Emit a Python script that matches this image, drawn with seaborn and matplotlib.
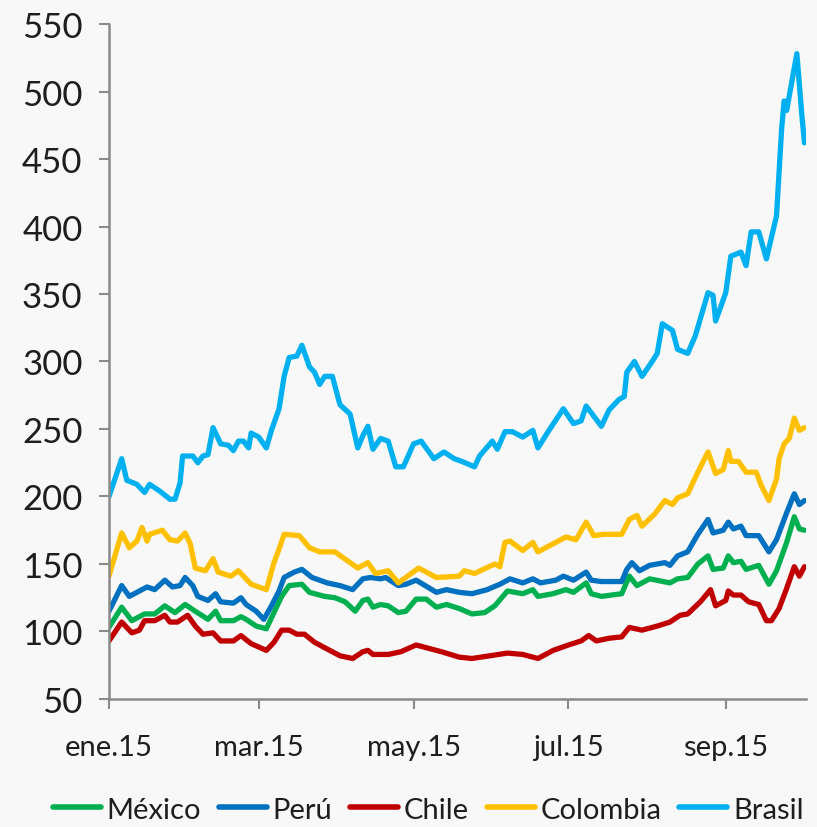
'''
Spreads soberanos de Latinoamerica, ene.15 - sep.15
'''
import pandas            as pnd
import seaborn           as sns
import matplotlib.pyplot as plt
from matplotlib.lines import Line2D

# dias desde 2015-01-01 y valores
mexico_dia   = [0, 5, 9, 14, 18, 22, 26, 30, 34, 39, 42, 44, 49, 52, 54, 58, 62, 65, 68, 71,
                76, 79, 85, 89, 93, 97, 100, 102, 104, 107, 110, 114, 117, 121, 125, 129, 133, 138, 143, 148,
                152, 157, 163, 167, 169, 175, 180, 183, 188, 190, 194, 202, 205, 208, 213, 221, 224, 228, 232, 236,
                238, 242, 244, 246, 249, 251, 256, 260, 263, 267, 270, 272, 274]
mexico_val   = [103, 118, 108, 113, 113, 119, 114, 120, 115, 109, 115, 108, 108, 111, 109, 104, 102, 114, 126, 134,
                135, 129, 126, 125, 122, 115, 123, 124, 118, 120, 119, 114, 115, 124, 124, 118, 120, 117, 113, 114,
                119, 130, 128, 131, 126, 128, 131, 129, 136, 128, 126, 128, 141, 134, 139, 136, 139, 140, 150, 156,
                146, 147, 156, 151, 152, 146, 149, 135, 145, 166, 185, 176, 175]

peru_dia     = [0, 5, 8, 12, 15, 18, 22, 25, 28, 30, 33, 35, 39, 42, 44, 49, 52, 54, 58, 61,
                64, 67, 69, 73, 76, 80, 86, 91, 96, 100, 103, 107, 109, 114, 117, 121, 129, 133, 138, 143,
                149, 154, 158, 163, 167, 170, 176, 179, 183, 188, 190, 194, 202, 204, 206, 209, 213, 219, 221, 224,
                228, 232, 236, 238, 242, 244, 246, 249, 251, 256, 260, 263, 267, 270, 272, 274]
peru_val     = [115, 134, 126, 130, 133, 131, 138, 133, 134, 140, 134, 126, 123, 128, 122, 121, 125, 120, 115, 109,
                119, 130, 140, 144, 146, 140, 136, 134, 131, 139, 140, 139, 140, 134, 135, 138, 129, 131, 129, 128,
                131, 135, 139, 136, 139, 136, 138, 141, 138, 144, 138, 137, 137, 146, 151, 145, 149, 151, 149, 156,
                159, 172, 183, 173, 175, 181, 176, 178, 171, 171, 159, 168, 188, 202, 194, 197]

chile_dia    = [0, 5, 9, 12, 14, 18, 22, 24, 27, 31, 34, 37, 41, 44, 49, 52, 54, 56, 62, 65,
                68, 71, 74, 77, 81, 86, 91, 96, 100, 102, 104, 110, 115, 121, 125, 131, 138, 143, 150, 157,
                163, 169, 175, 181, 186, 189, 192, 197, 202, 205, 210, 216, 221, 225, 228, 233, 237, 239, 243, 244,
                246, 249, 252, 256, 259, 261, 264, 267, 270, 272, 274]
chile_val    = [93, 107, 99, 101, 108, 108, 112, 107, 107, 112, 104, 98, 99, 93, 93, 97, 94, 91, 86, 92,
                101, 101, 98, 98, 92, 87, 82, 80, 85, 86, 83, 83, 85, 90, 88, 85, 81, 80, 82, 84,
                83, 80, 86, 90, 93, 97, 93, 95, 96, 103, 101, 104, 107, 112, 113, 122, 131, 119, 123, 130,
                127, 127, 122, 120, 108, 108, 117, 132, 148, 141, 148]

colombia_dia = [0, 5, 8, 11, 13, 15, 16, 21, 24, 27, 30, 32, 34, 38, 41, 43, 48, 51, 56, 62,
                65, 67, 69, 75, 79, 83, 89, 98, 102, 105, 110, 114, 122, 129, 138, 140, 144, 152, 154, 156,
                158, 163, 167, 169, 176, 180, 184, 188, 191, 195, 202, 205, 208, 210, 215, 219, 222, 224, 228, 232,
                236, 239, 242, 244, 245, 248, 251, 255, 257, 260, 263, 264, 266, 268, 270, 272, 274]
colombia_val = [141, 173, 162, 167, 177, 167, 172, 175, 168, 167, 173, 165, 147, 145, 154, 144, 141, 145, 135, 131,
                151, 161, 172, 171, 162, 159, 159, 147, 151, 143, 145, 136, 147, 140, 141, 145, 143, 150, 148, 166,
                167, 160, 166, 159, 166, 170, 168, 181, 171, 172, 172, 183, 186, 178, 187, 197, 194, 199, 202, 218,
                233, 217, 220, 234, 226, 226, 218, 218, 208, 197, 213, 228, 239, 243, 258, 249, 251]

brasil_dia   = [0, 5, 7, 11, 14, 16, 20, 24, 26, 28, 29, 33, 35, 37, 39, 41, 44, 47, 49, 51,
                53, 55, 56, 59, 62, 64, 67, 69, 71, 74, 76, 79, 81, 83, 85, 88, 91, 95, 98, 100,
                102, 104, 107, 110, 113, 116, 120, 123, 128, 132, 136, 139, 144, 146, 151, 153, 156, 159, 163, 167,
                169, 173, 179, 183, 186, 188, 194, 197, 201, 203, 204, 207, 210, 214, 216, 218, 222, 224, 228, 231,
                236, 238, 239, 243, 245, 249, 251, 253, 256, 259, 263, 265, 266, 267, 271, 273, 274]
brasil_val   = [200, 228, 212, 209, 203, 209, 204, 198, 198, 210, 230, 230, 225, 230, 231, 251, 239, 238, 234, 241,
                241, 236, 247, 244, 236, 249, 265, 289, 303, 304, 312, 296, 292, 283, 289, 289, 268, 261, 236, 245,
                252, 235, 243, 241, 222, 222, 239, 241, 228, 233, 228, 226, 222, 230, 241, 235, 248, 248, 244, 249,
                236, 248, 265, 254, 256, 267, 252, 264, 272, 274, 292, 300, 289, 300, 306, 328, 323, 309, 306, 319,
                351, 349, 330, 351, 378, 381, 371, 396, 396, 376, 408, 472, 493, 486, 528, 482, 462]

paises       = ['México', 'Perú', 'Chile', 'Colombia', 'Brasil']
colores      = ['#00B050', '#0070C0', '#C00000', '#FFC000', '#00B0F0']
tick_fechas  = ['2015-01-01', '2015-03-01', '2015-05-01', '2015-07-01', '2015-09-01']
tick_labels  = ['ene.15', 'mar.15', 'may.15', 'jul.15', 'sep.15']
y_ticks      = [50, 100, 150, 200, 250, 300, 350, 400, 450, 500, 550]
# ----------------------
class Data:
    '''
    Class meant to be used to share attributes
    '''
    start = pnd.Timestamp('2015-01-01')
    bg    = '#f8f8f8'
    axcol = '#8a8a8a'
    txt   = '#1e1e1e'
# ----------------------
def _load_data() -> pnd.DataFrame:
    '''
    Returns
    -------------
    Long dataframe with date, value and country
    '''
    l_dia = [mexico_dia, peru_dia, chile_dia, colombia_dia, brasil_dia]
    l_val = [mexico_val, peru_val, chile_val, colombia_val, brasil_val]

    l_df = []
    for pais, dia, val in zip(paises, l_dia, l_val):
        df = pnd.DataFrame({'dia' : dia, 'valor' : val})
        df['pais' ] = pais
        df['fecha'] = Data.start + pnd.to_timedelta(df['dia'], unit='D')
        l_df.append(df)

    return pnd.concat(l_df, ignore_index=True)
# ----------------------
def _plot(df : pnd.DataFrame) -> None:
    '''
    Parameters
    -------------
    df: Long dataframe with the series
    '''
    sns.set_theme(style='white')
    plt.rcParams['font.family'] = ['Lato', 'DejaVu Sans']

    fig = plt.figure(figsize=(8.17, 8.28), dpi=100, facecolor=Data.bg)
    ax  = fig.add_axes([0.1334, 0.1546, 0.8531, 0.8152], facecolor=Data.bg)

    palette = dict(zip(paises, colores))
    sns.lineplot(data=df, x='fecha', y='valor', hue='pais', hue_order=paises, palette=palette,
                 estimator=None, linewidth=3.8, legend=False, ax=ax,
                 solid_joinstyle='round', solid_capstyle='round')

    ax.set_ylim(50, 550)
    ax.set_xlim(Data.start, Data.start + pnd.Timedelta(days=274.6))
    ax.set_yticks(y_ticks)
    ax.set_xticks(pnd.to_datetime(tick_fechas))
    ax.set_xticklabels(tick_labels)
    ax.set_xlabel('')
    ax.set_ylabel('')

    for side in ['top', 'right']:
        ax.spines[side].set_visible(False)
    for side in ['left', 'bottom']:
        ax.spines[side].set_color(Data.axcol)
        ax.spines[side].set_linewidth(1.8)

    ax.tick_params(axis='both', direction='out', length=7, width=1.5, color=Data.axcol,
                   labelcolor=Data.txt, left=True, bottom=True)
    ax.tick_params(axis='y', pad=12, labelsize=25)
    ax.tick_params(axis='x', pad=18, labelsize=21)

    handles = [Line2D([0], [0], color=col, linewidth=4, solid_capstyle='round') for col in colores]
    fig.legend(handles, paises, loc='center', bbox_to_anchor=(0.524, 0.021), ncol=5, frameon=False,
               fontsize=21, handlelength=1.65, handletextpad=0.2, columnspacing=0.6,
               labelcolor=Data.txt)

    fig.savefig('out.png', dpi=100, facecolor=Data.bg)
    plt.close(fig)
# ----------------------
def main():
    '''
    Entry point
    '''
    df = _load_data()
    _plot(df=df)
# ----------------------
if __name__ == '__main__':
    main()
